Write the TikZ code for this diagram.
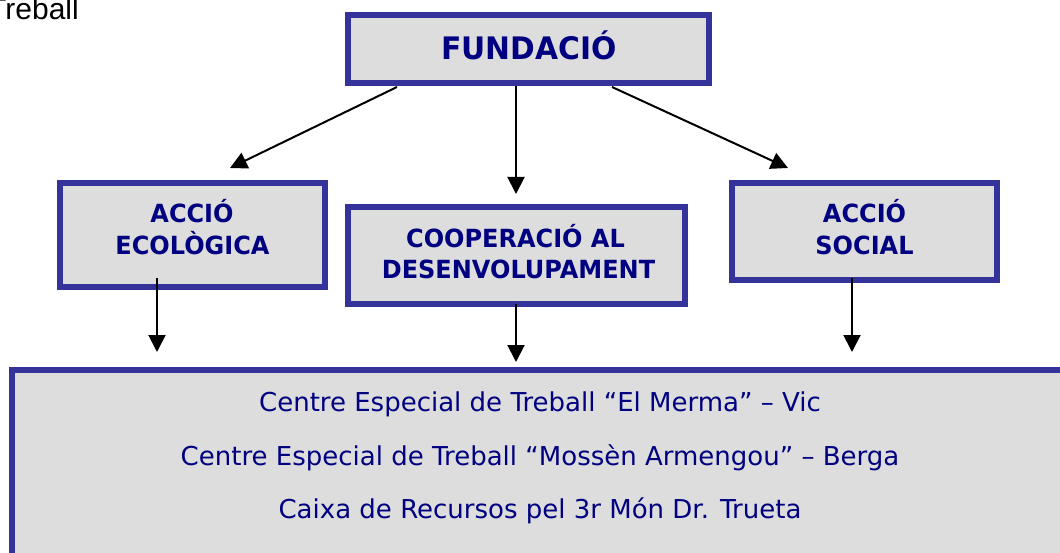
\documentclass[tikz,border=0pt]{standalone}
\usepackage{fontspec}
\setmainfont{DejaVu Sans}
\newfontfamily\bfam{DejaVu Sans}[FakeStretch=0.96]
\newfontfamily\arialf{Liberation Sans}
\usetikzlibrary{arrows.meta}
\definecolor{bordc}{HTML}{333399}
\definecolor{fillc}{HTML}{DDDDDD}
\definecolor{navy}{HTML}{000080}
\begin{document}
\begin{tikzpicture}[x=1pt,y=-1pt,
  box/.style={draw=bordc, line width=6pt, fill=fillc, inner sep=0pt, outer sep=0pt},
  headtxt/.style={text=navy, font=\bfam\bfseries\fontsize{31}{36}\selectfont, anchor=base, inner sep=0pt},
  subtxt/.style={text=navy, font=\bfam\bfseries\fontsize{25}{30}\selectfont, anchor=base, inner sep=0pt},
  itemtxt/.style={text=navy, font=\fontsize{26}{30}\selectfont, anchor=base, inner sep=0pt},
  arr/.style={line width=2pt, -{Triangle[width=17pt,length=17pt]}}]
\useasboundingbox (0,0) rectangle (1060,553);

% top-left fragment
\node[font=\arialf\fontsize{30}{34}\selectfont, anchor=base east, inner sep=0pt] (treball) at (79,20) {Treball};

% boxes
\node[box, minimum width=361pt, minimum height=68pt] (fund) at (528.5,49) {};
\node[box, minimum width=265pt, minimum height=104pt] (eco) at (192.5,235) {};
\node[box, minimum width=337pt, minimum height=97pt] (coop) at (516.5,255.5) {};
\node[box, minimum width=265pt, minimum height=97pt] (soc) at (864.5,231.5) {};
\begin{scope}
  \clip (0,0) rectangle (1060,553);
  \node[box, minimum width=1068pt, minimum height=210pt] (base) at (546,475) {};
\end{scope}

% texts
\node[headtxt] (tfund) at (529,60) {FUNDACIÓ};
\node[subtxt] (teco1) at (192,222.7) {ACCIÓ};
\node[subtxt] (teco2) at (192.5,255) {ECOLÒGICA};
\node[subtxt] (tcoop1) at (515.5,248) {COOPERACIÓ AL};
\node[subtxt] (tcoop2) at (518.5,279) {DESENVOLUPAMENT};
\node[subtxt] (tsoc1) at (864.5,222.7) {ACCIÓ};
\node[subtxt] (tsoc2) at (864.5,255) {SOCIAL};
\node[itemtxt] (i1) at (540,411.7) {Centre Especial de Treball “El Merma” – Vic};
\node[itemtxt] (i2) at (540,465) {Centre Especial de Treball “Mossèn Armengou” – Berga};
\node[itemtxt] (i3) at (540,518) {Caixa de Recursos pel 3r Món Dr. Trueta};

% arrow ends
\coordinate (a1s) at (397,87);
\coordinate (a1e) at (230,168);
\coordinate (a2s) at (516,86);
\coordinate (a2e) at (516,194);
\coordinate (a3s) at (612,87);
\coordinate (a3e) at (788,168);
\coordinate (b1s) at (157,278);
\coordinate (b1e) at (157,352);
\coordinate (b2s) at (516,304);
\coordinate (b2e) at (516,362);
\coordinate (b3s) at (852,278);
\coordinate (b3e) at (852,352);

\draw[arr] (a1s) -- (a1e);
\draw[arr] (a2s) -- (a2e);
\draw[arr] (a3s) -- (a3e);
\draw[arr] (b1s) -- (b1e);
\draw[arr] (b2s) -- (b2e);
\draw[arr] (b3s) -- (b3e);
\end{tikzpicture}
\end{document}
